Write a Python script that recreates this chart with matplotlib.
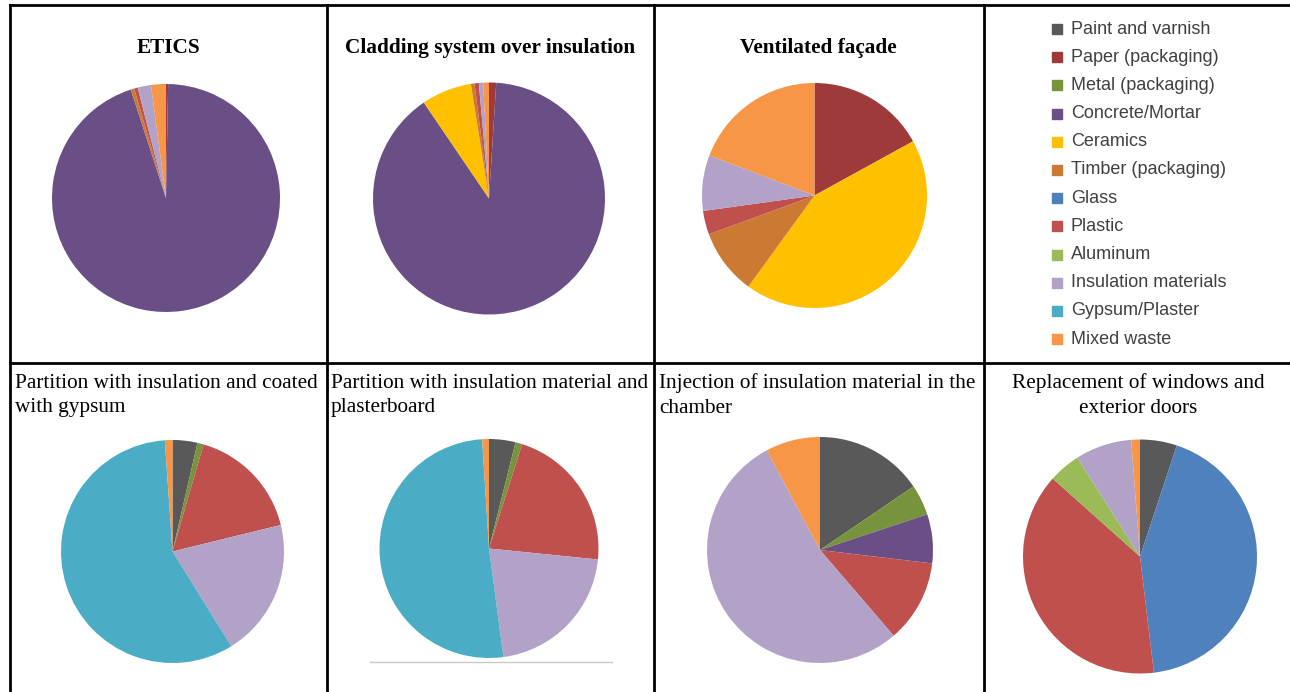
import matplotlib
matplotlib.use("Agg")
import matplotlib.pyplot as plt
from matplotlib.lines import Line2D
from matplotlib.patches import Rectangle

W, H = 1290, 692

categories = ["Paint and varnish", "Paper (packaging)", "Metal (packaging)", "Concrete/Mortar",
              "Ceramics", "Timber (packaging)", "Glass", "Plastic", "Aluminum",
              "Insulation materials", "Gypsum/Plaster", "Mixed waste"]
colors = ["#595959", "#9E3B3A", "#77933C", "#694F86", "#FFC000", "#CC7A33",
          "#4F81BD", "#C0504D", "#9BBB59", "#B2A2C7", "#4BACC6", "#F79646"]

# shares (%) per category, same order as categories
etics = [0, 0.3, 0, 94.7, 0, 0.5, 0, 0.5, 0, 1.9, 0, 2.1]
cladding = [0, 1.0, 0, 89.5, 7.0, 0.5, 0, 0.6, 0, 0.6, 0, 0.8]
ventilated = [0, 17.0, 0, 0, 43.0, 9.4, 0, 3.4, 0, 8.0, 0, 19.2]
part_gypsum = [3.6, 0, 0.9, 0, 0, 0, 0, 16.7, 0, 20.0, 57.8, 1.1]
part_board = [3.9, 0, 1.0, 0, 0, 0, 0, 21.7, 0, 21.3, 51.1, 1.0]
injection = [15.5, 0, 4.4, 7.0, 0, 0, 0, 11.8, 0, 53.5, 0, 7.8]
windows = [5.1, 0, 0, 0, 0, 0, 43.0, 38.5, 4.4, 7.8, 0, 1.2]

fig = plt.figure(figsize=(W / 100, H / 100), dpi=100)
fig.patch.set_facecolor("white")


def fx(x):
    return x / W


def fy(y):
    return 1 - y / H


def add_pie(values, cx, cy, r):
    ax = fig.add_axes([fx(cx - r), fy(cy + r), 2 * r / W, 2 * r / H])
    ax.pie(values, colors=colors, startangle=90, counterclock=False,
           wedgeprops=dict(linewidth=0))
    ax.set_xlim(-1, 1)
    ax.set_ylim(-1, 1)
    ax.set_aspect("auto")
    ax.axis("off")
    return ax


add_pie(etics, 166, 198, 114)
add_pie(cladding, 489, 198.5, 116)
add_pie(ventilated, 814.5, 195.5, 112.5)
add_pie(part_gypsum, 172.5, 551.5, 111.5)
add_pie(part_board, 489, 548.5, 109.5)
add_pie(injection, 820, 550, 113)
add_pie(windows, 1140, 556.5, 117)

# table grid
def hline(y, x0, x1, color="black", lw=2):
    fig.add_artist(Line2D([fx(x0), fx(x1)], [fy(y), fy(y)], color=color, lw=lw,
                          transform=fig.transFigure))


def vline(x, y0, y1):
    fig.add_artist(Line2D([fx(x), fx(x)], [fy(y0), fy(y1)], color="black", lw=2,
                          transform=fig.transFigure))


hline(5, 10, W)
hline(363, 10, W)
for x in [10, 327, 654, 984]:
    vline(x, 5, H)
hline(662, 370, 612, color="#C8C8C8", lw=1)

serif = ["Liberation Serif", "DejaVu Serif"]
fs = 15.3
# top row titles
for txt, x in [("ETICS", 168), ("Cladding system over insulation", 490), ("Ventilated façade", 818)]:
    fig.text(fx(x), fy(48), txt, ha="center", va="center", fontsize=fs,
             fontweight="bold", family=serif)

# bottom row titles
ty = 395.5
ls = 1.4
fig.text(fx(15), fy(ty), "Partition with insulation and coated\nwith gypsum",
         ha="left", va="center", fontsize=fs, family=serif, linespacing=ls)
fig.text(fx(331), fy(ty), "Partition with insulation material and\nplasterboard",
         ha="left", va="center", fontsize=fs, family=serif, linespacing=ls)
fig.text(fx(659), fy(ty), "Injection of insulation material in the\nchamber",
         ha="left", va="center", fontsize=fs, family=serif, linespacing=ls)
fig.text(fx(1138), fy(ty), "Replacement of windows and\nexterior doors",
         ha="center", va="center", fontsize=fs, family=serif, linespacing=ls,
         multialignment="center")

# legend
for i, (name, c) in enumerate(zip(categories, colors)):
    y = 29 + 28.2 * i
    fig.add_artist(Rectangle((fx(1052), fy(y + 5)), 10 / W, 10 / H, color=c,
                             transform=fig.transFigure))
    fig.text(fx(1071), fy(y), name, ha="left", va="center", fontsize=13,
             color="#404040", family=["Liberation Sans", "DejaVu Sans"])

fig.savefig("out.png", dpi=100)
